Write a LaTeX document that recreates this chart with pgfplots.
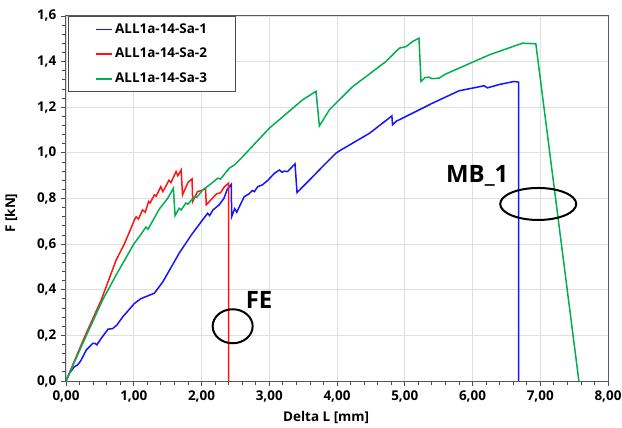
\documentclass[border=0pt]{standalone}
\usepackage{fontspec}
\setmainfont{Open Sans}
\usepackage{pgfplots}
\pgfplotsset{compat=1.18}
\definecolor{cblue}{RGB}{20,20,255}
\definecolor{cred}{RGB}{255,20,20}
\definecolor{cgreen}{RGB}{0,176,80}
\begin{document}
\fontsize{13.5}{16}\selectfont
\begin{tikzpicture}
\begin{axis}[
  scale only axis, width=542bp, height=365bp,
  xmin=0, xmax=8, ymin=0, ymax=1.6,
  xtick={0,1,2,3,4,5,6,7,8},
  ytick={0,0.2,0.4,0.6,0.8,1.0,1.2,1.4,1.6},
  minor x tick num=4, minor y tick num=4,
  tick align=outside, tick pos=left,
  major tick length=5bp, minor tick length=4bp,
  every tick/.style={gray!60!black, line width=0.8bp},
  grid=major, major grid style={gray!25, line width=0.8bp},
  axis line style={gray!70!black, line width=1bp},
  /pgf/number format/assume math mode=true,
  ticklabel style={font=\bfseries\fontsize{13.5}{16}\selectfont},
  xticklabel style={/pgf/number format/.cd, fixed, fixed zerofill, precision=2, use comma},
  yticklabel style={/pgf/number format/.cd, fixed, fixed zerofill, precision=1, use comma},
  xlabel={Delta L [mm]}, ylabel={F [kN]},
  label style={font=\bfseries\fontsize{13.5}{16}\selectfont},
  xlabel style={at={(axis description cs:0.48,-0.101)}, anchor=center},
  ylabel style={at={(axis description cs:-0.1015,0.46)}, anchor=center},
  legend style={at={(axis description cs:0.004,1)}, anchor=north west,
    draw=gray!60!black, line width=1bp, fill=white,
    font=\bfseries\fontsize{13.5}{16}\selectfont,
    inner xsep=27bp, inner ysep=5bp, row sep=9bp, cells={anchor=west}},
  legend image code/.code={\draw[#1, line width=1.5bp] (0bp,0bp) -- (16bp,0bp);},
  clip=false,
]
\addplot[cblue, line width=1.5bp] coordinates {
(0,0) (0.05,0.034) (0.125,0.063) (0.17,0.07) (0.22,0.09) (0.30,0.136)
(0.395,0.165) (0.43,0.165) (0.455,0.158) (0.52,0.187) (0.62,0.227)
(0.69,0.23) (0.75,0.245) (0.84,0.282) (1.01,0.34) (1.10,0.36) (1.18,0.37)
(1.305,0.385) (1.43,0.435) (1.53,0.487) (1.67,0.56) (1.85,0.64)
(2.00,0.70) (2.09,0.735) (2.12,0.725) (2.17,0.75) (2.26,0.772) (2.33,0.80)
(2.38,0.84) (2.44,0.862) (2.445,0.72) (2.49,0.755) (2.52,0.74) (2.63,0.808)
(2.70,0.82) (2.75,0.835) (2.78,0.83) (2.83,0.852) (2.90,0.86) (2.98,0.88)
(3.075,0.91) (3.15,0.925) (3.19,0.915) (3.22,0.92) (3.27,0.918) (3.38,0.952)
(3.41,0.826) (3.62,0.889) (3.81,0.947) (3.985,0.999) (4.06,1.013)
(4.48,1.086) (4.81,1.162) (4.82,1.123) (4.88,1.14) (4.92,1.145)
(5.41,1.218) (5.80,1.272) (6.17,1.294) (6.22,1.285) (6.40,1.30)
(6.615,1.313) (6.68,1.31) (6.68,0)
};
\addlegendentry{ALL1a-14-Sa-1}
\addplot[cred, line width=1.5bp] coordinates {
(0,0) (0.27,0.19) (0.52,0.355) (0.74,0.53) (0.86,0.60) (0.96,0.67)
(1.01,0.706) (1.035,0.72) (1.07,0.71) (1.13,0.75) (1.17,0.74) (1.22,0.787) (1.24,0.78)
(1.305,0.816) (1.33,0.81) (1.40,0.852) (1.43,0.83) (1.52,0.88) (1.55,0.87)
(1.625,0.918) (1.65,0.90) (1.70,0.925) (1.72,0.816) (1.80,0.87) (1.86,0.886)
(1.87,0.787) (1.94,0.83) (2.00,0.835) (2.06,0.845) (2.07,0.772) (2.14,0.794)
(2.22,0.82) (2.28,0.825) (2.34,0.852) (2.40,0.867) (2.40,0)
};
\addlegendentry{ALL1a-14-Sa-2}
\addplot[cgreen, line width=1.5bp] coordinates {
(0,0) (0.27,0.18) (0.54,0.355) (0.75,0.47) (1.0,0.60) (1.10,0.64)
(1.18,0.675) (1.21,0.665) (1.38,0.755) (1.50,0.80) (1.585,0.845) (1.61,0.725)
(1.67,0.757) (1.70,0.75) (1.77,0.78) (1.80,0.775) (1.895,0.808) (1.93,0.805)
(2.02,0.838) (2.12,0.86) (2.24,0.889) (2.28,0.885) (2.41,0.933) (2.485,0.947)
(2.61,0.984) (3.0,1.108) (3.49,1.232) (3.69,1.27) (3.74,1.118) (3.89,1.19)
(4.23,1.29) (4.72,1.40) (4.92,1.459) (5.02,1.466) (5.115,1.488) (5.21,1.503)
(5.24,1.313) (5.30,1.33) (5.36,1.332) (5.40,1.325) (5.51,1.328) (5.60,1.345)
(6.25,1.43) (6.74,1.481) (6.935,1.478) (7.57,0)
};
\addlegendentry{ALL1a-14-Sa-3}
\draw[black, line width=2bp] (axis cs:2.46,0.24) ellipse [x radius=20bp, y radius=17bp];
\draw[black, line width=2bp] (axis cs:6.97,0.776) ellipse [x radius=38bp, y radius=16bp];
\node[font=\bfseries\fontsize{24}{28}\selectfont] at (axis cs:2.85,0.355) {FE};
\node[font=\bfseries\fontsize{24}{28}\selectfont] at (axis cs:6.07,0.90) {MB\_1};
\end{axis}
\pgfresetboundingbox
\path[use as bounding box] (current axis.south west) ++(-66bp,-47bp) rectangle ++(622bp,428bp);
\end{tikzpicture}
\end{document}
